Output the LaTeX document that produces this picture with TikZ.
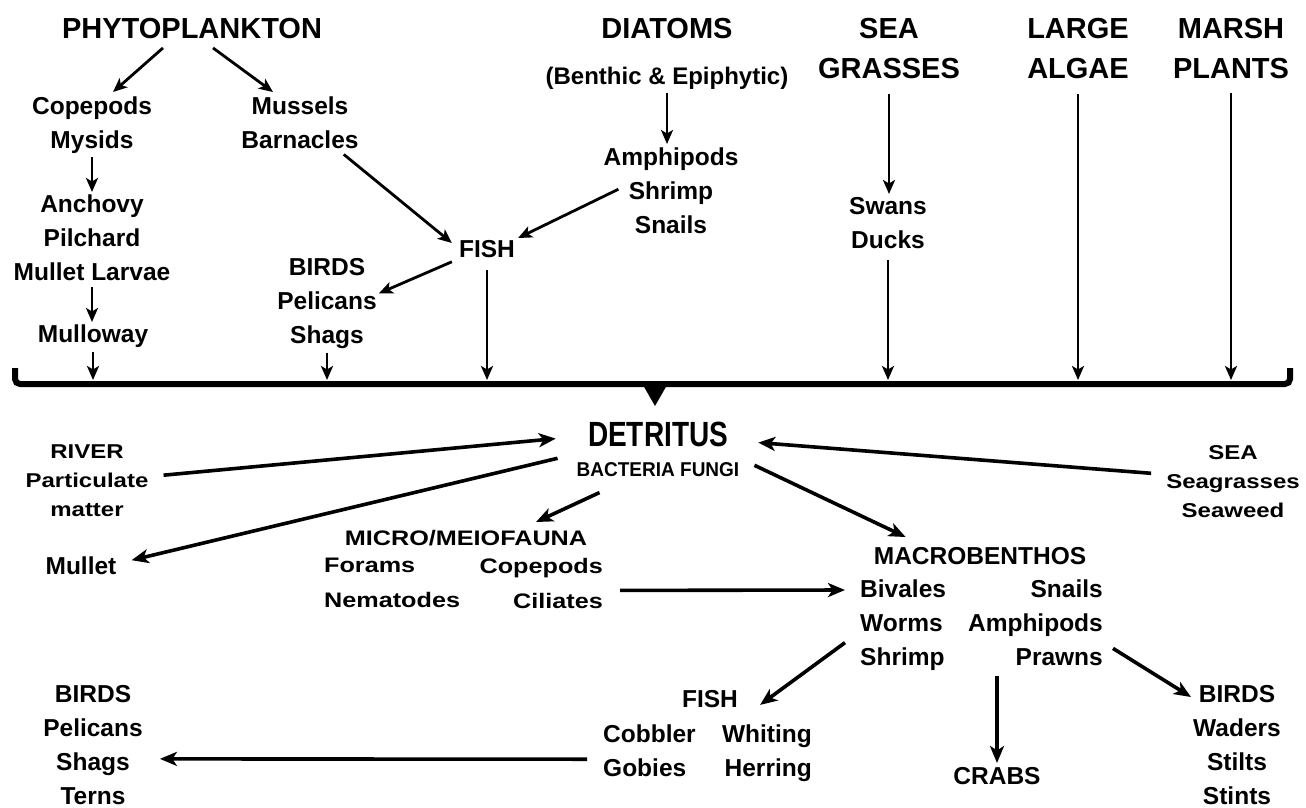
\documentclass[tikz,border=0pt]{standalone}
\usepackage{fontspec}
\usepackage{graphicx}
\setmainfont{Liberation Sans}
\newfontfamily\widefont{Liberation Sans}[FakeStretch=1.2]
\usetikzlibrary{arrows.meta}

\begin{document}
\begin{tikzpicture}[x=1pt, y=-1pt, inner sep=0pt,
  head/.style={font=\fontsize{29}{40}\selectfont\bfseries, align=center, anchor=north},
  lab/.style={font=\fontsize{24.5}{34}\selectfont\bfseries, align=center, anchor=north},
  wlab/.style={font=\widefont\fontsize{20}{29}\selectfont\bfseries, align=center, anchor=north},
  mlab/.style={font=\widefont\fontsize{21}{35}\selectfont\bfseries, align=center, anchor=north},
  arr/.style={line width=2.8pt, -{Stealth[length=14pt, width=12pt, inset=3.5pt]}},
  arrB/.style={line width=3.6pt, -{Stealth[length=17pt, width=14pt, inset=4.5pt]}}]
\useasboundingbox (0,0) rectangle (1306,807);
% Sources
\node[head] (phyto) at (192,18) {PHYTOPLANKTON};
\node[head] (diat) at (667,18) {DIATOMS};
\node[lab, font=\fontsize{24}{34}\selectfont\bfseries] (benth) at (667,67) {(Benthic \& Epiphytic)};
\node[head] (seagr) at (889,18) {SEA\\GRASSES};
\node[head] (algae) at (1078,18) {LARGE\\ALGAE};
\node[head] (marsh) at (1231,18) {MARSH\\PLANTS};
% Grazers above the brace
\node[lab] (cope) at (92,97) {Copepods\\Mysids};
\node[lab] (anch) at (92,195) {Anchovy\\Pilchard\\Mullet Larvae};
\node[lab] (mullo) at (93,325) {Mulloway};
\node[lab] (mussel) at (300,97) {Mussels\\Barnacles};
\node[lab] (fish1) at (487,240) {FISH};
\node[lab] (birds1) at (327,258) {BIRDS\\Pelicans\\Shags};
\node[lab] (amph) at (671,148) {Amphipods\\Shrimp\\Snails};
\node[lab] (swans) at (888,197) {Swans\\Ducks};
% Brace
\draw[line width=6pt, rounded corners=5pt] (15,368) -- (15,384) -- (1290,384) -- (1290,368);
\fill (643,385) -- (667,385) -- (655,406) -- cycle;
\coordinate (brace) at (0,380);
% Detritus and below
\node[lab, font=\fontsize{35}{40}\selectfont\bfseries] (detr) at (658,422) {\scalebox{0.8}[1]{DETRITUS}};
\node[lab, font=\fontsize{20}{24}\selectfont\bfseries] (bact) at (658,462) {\scalebox{0.95}[1]{BACTERIA FUNGI}};
\node[wlab] (river) at (87,445) {RIVER\\Particulate\\matter};
\node[wlab] (sea) at (1233,445) {SEA\\Seagrasses\\Seaweed};
\node[lab] (mullet) at (81,557) {Mullet};
\node[mlab] (micro) at (466,530) {MICRO/MEIOFAUNA};
\node[mlab, align=left, anchor=north west] (mic1) at (324,558) {Forams\\Nematodes};
\node[mlab, align=right, anchor=north east] (mic2) at (603,558) {Copepods\\Ciliates};
\node[lab] (macro) at (980,547) {MACROBENTHOS};
\node[lab, align=left, anchor=north west] (mb1) at (860,580) {Bivales\\Worms\\Shrimp};
\node[lab, align=right, anchor=north east] (mb2) at (1103,580) {Snails\\Amphipods\\Prawns};
\node[lab] (fish2) at (710,690) {FISH};
\node[lab, align=left, anchor=north west] (f1) at (603,725) {Cobbler\\Gobies};
\node[lab, align=right, anchor=north east] (f2) at (812,725) {Whiting\\Herring};
\node[lab] (birds2) at (93,685) {BIRDS\\Pelicans\\Shags\\Terns};
\node[lab] (crabs) at (997,767) {CRABS};
\node[lab] (birds3) at (1237,685) {BIRDS\\Waders\\Stilts\\Stints};
% Top arrows
\draw[arr] ([shift={(-29,9)}]phyto.south) -- ([shift={(21,-5)}]cope.north);
\draw[arr] ([shift={(21,9)}]phyto.south) -- ([shift={(-27,-5)}]mussel.north);
\draw[arr, shorten <=3pt, shorten >=3pt] (cope.south) -- (cope.south |- anch.north);
\draw[arr, shorten <=6pt, shorten >=3pt] (anch.south) -- (anch.south |- mullo.north);
\draw[arr, shorten <=4pt] (mullo.south) -- (mullo.south |- brace);
\draw[arr] ([shift={(-15,5)}]mussel.south east) -- ([shift={(-7,3)}]fish1.north west);
\draw[arr] ([shift={(15,-2)}]amph.west) -- ([shift={(3,-2)}]fish1.north east);
\draw[arr, shorten <=3pt, shorten >=4pt] (benth.south) -- (benth.south |- amph.north);
\draw[arr] ([shift={(-7,4)}]fish1.south west) -- ([shift={(2,-10)}]birds1.east);
\draw[arr, shorten <=12pt] (fish1.south) -- (fish1.south |- brace);
\draw[arr, shorten <=4pt] (birds1.south) -- (birds1.south |- brace);
\draw[arr, shorten <=15pt, shorten >=3pt] (seagr.south) -- (seagr.south |- swans.north);
\draw[arr, shorten <=11pt] (swans.south) -- (swans.south |- brace);
\draw[arr, shorten <=15pt] (algae.south) -- (algae.south |- brace);
\draw[arr, shorten <=14pt] (marsh.south) -- (marsh.south |- brace);
% Lower arrows
\draw[arrB] ([shift={(15,-6)}]river.east) -- ([shift={(-32,4)}]detr.west);
\draw[arrB] ([shift={(-19,-11)}]bact.west) -- ([shift={(15,-6)}]mullet.east);
\draw[arrB] ([shift={(23,16)}]bact.south west) -- ([shift={(70,-8)}]micro.north);
\draw[arrB] ([shift={(-15,-8)}]sea.west) -- ([shift={(30,8)}]detr.east);
\draw[arrB] ([shift={(15,-4)}]bact.east) -- ([shift={(32,-10)}]macro.north west);
\draw[arrB] ([shift={(17,7)}]mic2.east) -- ([shift={(-15,10)}]mb1.north west);
\draw[arrB] ([shift={(-15,17)}]mb1.west) -- ([shift={(22,6)}]fish2.east);
\draw[arrB] ([shift={(-16,8)}]f1.west) -- ([shift={(17,14)}]birds2.east);
\draw[arrB, shorten <=10pt, shorten >=4pt] (crabs.north |- mb2.south) -- (crabs.north);
\draw[arrB] ([shift={(10,-18)}]mb2.south east) -- ([shift={(-2,12)}]birds3.north west);
\end{tikzpicture}
\end{document}
